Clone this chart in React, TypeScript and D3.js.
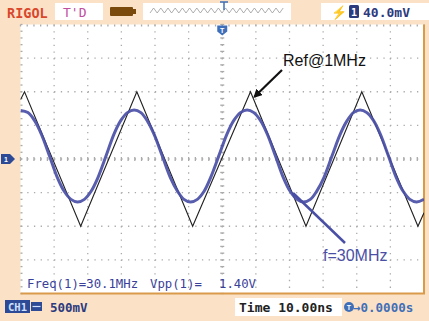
import React from "react";
import * as d3 from "d3";

// scope settings: 10ns/div, 500mV/div
const timeDivs = [-60, -50, -40, -30, -20, -10, 0, 10, 20, 30, 40, 50, 60];
const voltDivs = [-2, -1.5, -1, -0.5, 0, 0.5, 1, 1.5, 2];

// Ref@1MHz triangle (corners)
const refTimes = [-60, -58.8, -42.1, -25.4, -8.8, 8.4, 24.9, 41.5, 58.2, 60];
const refVolts = [0.88, 1.0, -1.0, 1.0, -1.0, 1.0, -1.0, 1.0, -1.0, -0.8];

// f=30MHz trace, sampled points
const sigTimes = [
  -60, -57.8, -55.8, -53.8, -51.4, -49, -47, -45, -43, -41, -39, -37, -34.6,
  -32.2, -30.2, -28.2, -26.2, -24.2, -22.2, -20.2, -17.8, -15.4, -13.4, -11.4,
  -9.4, -7.4, -5.4, -3.4, -1, 1.4, 3.4, 5.4, 7.4, 9.4, 11.4, 13.4, 15.8, 18.2,
  20.2, 22.2, 24.2, 26.2, 28.2, 30.2, 32.6, 35, 37, 39, 41, 43, 45, 47, 49.4,
  51.8, 53.8, 55.8, 57.8, 60,
];
const sigVolts = [
  0.72, 0.69, 0.57, 0.37, 0.05, -0.28, -0.48, -0.6, -0.64, -0.6, -0.48, -0.28,
  0.04, 0.37, 0.57, 0.69, 0.73, 0.69, 0.56, 0.36, 0.04, -0.28, -0.47, -0.6,
  -0.64, -0.6, -0.48, -0.27, 0.05, 0.37, 0.57, 0.69, 0.73, 0.69, 0.57, 0.37,
  0.05, -0.28, -0.48, -0.6, -0.64, -0.6, -0.47, -0.28, 0.04, 0.36, 0.56, 0.69,
  0.73, 0.69, 0.57, 0.37, 0.05, -0.28, -0.48, -0.6, -0.64, -0.6,
];

const freqText = "Freq(1)=30.1MHz";
const vppLabel = "Vpp(1)=";
const vppValue = "1.40V";
const trigText = "40.0mV";
const voltDivText = "500mV";
const timeText = "Time 10.00ns";
const offsetText = "0.0000s";

const BLUE = "#4a4fa6";
const mono = "'DejaVu Sans Mono', monospace";

export default function App() {
  const x = d3.scaleLinear().domain([-60, 60]).range([20.5, 424]);
  const y = d3.scaleLinear().domain([-2, 2]).range([293.5, 24.5]);

  const refData = refTimes.map((t, i) => [t, refVolts[i]] as [number, number]);
  const sigData = sigTimes.map((t, i) => [t, sigVolts[i]] as [number, number]);

  const refLine = d3.line<[number, number]>().x((d) => x(d[0])).y((d) => y(d[1]));
  const sigLine = d3
    .line<[number, number]>()
    .x((d) => x(d[0]))
    .y((d) => y(d[1]))
    .curve(d3.curveCatmullRom.alpha(0.5));

  const minorX = d3.range(-60, 60.01, 2);
  const minorY = d3.range(-2, 2.01, 0.1);

  // overview strip zigzag
  const zig = d3.range(0, 38).map((i) => [150 + i * 3.6, i % 2 ? 8 : 13]);

  return (
    <svg
      width={429}
      height={321}
      style={{ position: "absolute", left: 0, top: 0, fontFamily: "'Liberation Sans', Arial, sans-serif" }}
    >
      <defs>
        <clipPath id="scr">
          <rect x={x(-60)} y={y(2)} width={x(60) - x(-60)} height={y(-2) - y(2)} />
        </clipPath>
        <marker id="ah" viewBox="0 0 10 10" refX="8" refY="5" markerWidth="4" markerHeight="4" orient="auto">
          <path d="M0,0 L10,5 L0,10 z" fill="#111" />
        </marker>
      </defs>
      <rect width={429} height={321} fill="#fbe2c6" />

      {/* top bar */}
      <text x={7} y={18} fill="#d9472c" fontFamily={mono} fontWeight="bold" fontSize={13.5}>RIGOL</text>
      <rect x={55} y={3} width={48} height={17} fill="#fff" />
      <text x={63} y={17} fill="#c04fa0" fontFamily={mono} fontSize={13}>T'D</text>
      <rect x={110} y={7} width={23} height={9} rx={1} fill="#7a4a0c" />
      <rect x={133} y={9} width={3} height={5} fill="#7a4a0c" />
      <rect x={143} y={3} width={148} height={17} fill="#fff" />
      <polyline points={zig.map((p) => p.join(",")).join(" ")} fill="none" stroke="#999" strokeWidth={0.8} />
      <path d="M220,2 h8 M224,2 v8" stroke="#3f6fb8" strokeWidth={1.5} />
      <rect x={321} y={3} width={108} height={17} fill="#fff" />
      <text x={331} y={17} fill="#2c3a7e" fontSize={13} fontWeight="bold">⚡</text>
      <rect x={349} y={5} width={10} height={13} rx={1.5} fill="#2c3a7e" />
      <text x={354} y={15.5} textAnchor="middle" fill="#fff" fontFamily={mono} fontSize={10} fontWeight="bold">1</text>
      <text x={363} y={17} fill="#2c3a7e" fontFamily={mono} fontSize={13} fontWeight="bold">{trigText}</text>

      {/* screen */}
      <rect x={x(-60)} y={y(2)} width={x(60) - x(-60)} height={y(-2) - y(2)} fill="#fff" />
      <g stroke="#aaa" strokeWidth={1.3}>
        {timeDivs.slice(1, -1).map((t) => (
          <line key={"v" + t} x1={x(t)} x2={x(t)} y1={y(2)} y2={y(-2)} strokeDasharray="1.3 5.42" />
        ))}
        {voltDivs.slice(1, -1).map((v) => (
          <line key={"h" + v} y1={y(v)} y2={y(v)} x1={x(-60)} x2={x(60)} strokeDasharray="1.3 5.42" />
        ))}
        {minorX.map((t) => (
          <line key={"tx" + t} x1={x(t)} x2={x(t)} y1={y(0) - 2} y2={y(0) + 2} />
        ))}
        {minorY.map((v) => (
          <line key={"ty" + v} y1={y(v)} y2={y(v)} x1={x(0) - 2} x2={x(0) + 2} />
        ))}
        {minorX.map((t) => (
          <line key={"tt" + t} x1={x(t)} x2={x(t)} y1={y(2)} y2={y(2) + 2} />
        ))}
        {minorY.map((v) => (
          <line key={"tl" + v} y1={y(v)} y2={y(v)} x1={x(-60)} x2={x(-60) + 2} />
        ))}
      </g>
      <path d={`M${x(-60)},${y(-2)} H${x(60)} V${y(2)}`} fill="none" stroke="#d99a4a" strokeWidth={2} />

      <g clipPath="url(#scr)">
        <path d={refLine(refData) ?? ""} fill="none" stroke="#222" strokeWidth={1.1} />
        <path d={sigLine(sigData) ?? ""} fill="none" stroke={BLUE} strokeWidth={3} strokeLinejoin="round" opacity={0.92} />
      </g>

      {/* markers */}
      <path d={`M${x(0) - 5},${y(2) + 1} h10 v6 l-5,4 l-5,-4 z`} fill="#3f6fb8" />
      <text x={x(0)} y={y(2) + 8} textAnchor="middle" fill="#fff" fontSize={7} fontWeight="bold">T</text>
      <path d={`M1,${y(0) - 5} h9 l5,5 l-5,5 h-9 z`} fill="#2c4a96" />
      <text x={6} y={y(0) + 3} textAnchor="middle" fill="#fff" fontSize={7} fontWeight="bold">1</text>

      {/* annotations */}
      <text x={283} y={66} fontSize={16} fill="#111">Ref@1MHz</text>
      <line x1={282} y1={70} x2={x(8.4) + 4} y2={y(1) + 5} stroke="#111" strokeWidth={2.2} markerEnd="url(#ah)" />
      <text x={323} y={261} fontSize={16} fill={BLUE}>f=30MHz</text>
      <line x1={293} y1={193} x2={345} y2={243} stroke={BLUE} strokeWidth={2.5} />

      <text x={27} y={288} fill="#3a3f9a" fontFamily={mono} fontSize={12.3}>{freqText}</text>
      <text x={150} y={288} fill="#3a3f9a" fontFamily={mono} fontSize={12.3}>{vppLabel}</text>
      <text x={219} y={288} fill="#3a3f9a" fontFamily={mono} fontSize={12.3}>{vppValue}</text>

      {/* bottom bar */}
      <rect x={5} y={300} width={25} height={13} fill="#2c4a96" />
      <text x={17.5} y={311} textAnchor="middle" fill="#cfe0ff" fontFamily={mono} fontSize={10.5} fontWeight="bold">CH1</text>
      <rect x={31} y={302} width={11} height={9} fill="#2c4a96" />
      <line x1={32.5} x2={40.5} y1={306.5} y2={306.5} stroke="#cfe0ff" strokeWidth={1.2} />
      <text x={50} y={312} fill="#2c3a7e" fontFamily={mono} fontSize={12.5} fontWeight="bold">{voltDivText}</text>
      <rect x={235} y={298} width={107} height={18} fill="#fff" />
      <text x={239} y={312} fill="#222" fontFamily={mono} fontSize={13} fontWeight="bold">{timeText}</text>
      <circle cx={349} cy={307} r={5} fill="#3f6fb8" />
      <text x={349} y={310} textAnchor="middle" fill="#fff" fontSize={7} fontWeight="bold">T</text>
      <text x={353} y={312} fill="#3f6fb8" fontFamily={mono} fontSize={12.5} fontWeight="bold">{"→" + offsetText}</text>
    </svg>
  );
}
